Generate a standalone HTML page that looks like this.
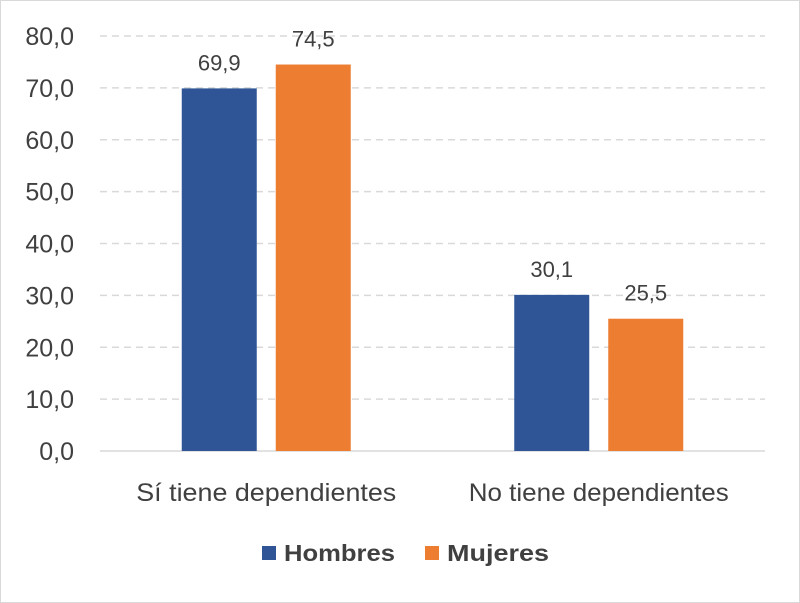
<!DOCTYPE html>
<html><head><meta charset="utf-8"><style>
html,body{margin:0;padding:0;background:#fff}
svg{display:block;font-family:"Liberation Sans",sans-serif}
</style></head><body>
<svg id="chart" width="800" height="603">
<rect x="0.5" y="0.5" width="799" height="602" fill="#fff" stroke="#d9d9d9"/>
<g id="grid"></g><g id="bars"></g><g id="labels"></g>
<g>
<rect x="262" y="546" width="14" height="14" fill="#2f5597"/>
<text x="284" y="561" font-size="23" font-weight="bold" fill="#404040" textLength="111" lengthAdjust="spacingAndGlyphs">Hombres</text>
<rect x="425" y="546" width="14" height="14" fill="#ed7d31"/>
<text x="447" y="561" font-size="23" font-weight="bold" fill="#404040" textLength="102" lengthAdjust="spacingAndGlyphs">Mujeres</text>
</g>
</svg>
<script>
const categories=["Sí tiene dependientes","No tiene dependientes"];
const hombres=[69.9,30.1];
const mujeres=[74.5,25.5];
const ticks=[0,10,20,30,40,50,60,70,80];
const NS="http://www.w3.org/2000/svg";
const y0=451,yTop=36,yMax=80;
function y(v){return y0-(v/yMax)*(y0-yTop);}
const xL=100,xR=765,band=(xR-xL)/categories.length;
function xc(i){return xL+band*(i+0.5);}
function mk(tag,attrs,parent){const e=document.createElementNS(NS,tag);for(const k in attrs)e.setAttribute(k,attrs[k]);parent.appendChild(e);return e;}
const grid=document.getElementById('grid'),bars=document.getElementById('bars'),labels=document.getElementById('labels');
ticks.forEach(t=>{
  if(t>0){const l=mk('line',{x1:xL,x2:xR,y1:y(t),y2:y(t),stroke:'#d9d9d9','stroke-width':1.5,'stroke-dasharray':'7,5'},grid);
  
  }
  const tx=mk('text',{x:74,y:y(t)+9,'text-anchor':'end','font-size':25,fill:'#404040'},labels);
  tx.textContent=t.toFixed(1).replace('.',',');
  
  
});
const ax=mk('line',{x1:xL,x2:xR,y1:y0,y2:y0,stroke:'#d9d9d9','stroke-width':1.5},grid);


const bw=75,gap=19;
categories.forEach((c,i)=>{
  [[hombres,'#2f5597','hombres',-1],[mujeres,'#ed7d31','mujeres',1]].forEach(([arr,col,nm,s])=>{
    const v=arr[i];
    const bx=s<0?xc(i)-gap/2-bw:xc(i)+gap/2;
    const r=mk('rect',{x:bx,y:y(v),width:bw,height:y0-y(v),fill:col},bars);
    
    
    const t=mk('text',{x:bx+bw/2,y:y(v)-18,'text-anchor':'middle','font-size':22,fill:'#404040'},labels);
    t.textContent=v.toFixed(1).replace('.',',');
    
    
  });
  const t=mk('text',{x:xc(i),y:501,'text-anchor':'middle','font-size':25,fill:'#404040',textLength:260,lengthAdjust:'spacingAndGlyphs'},labels);
  t.textContent=c;
  
  
});
</script>
</body></html>
